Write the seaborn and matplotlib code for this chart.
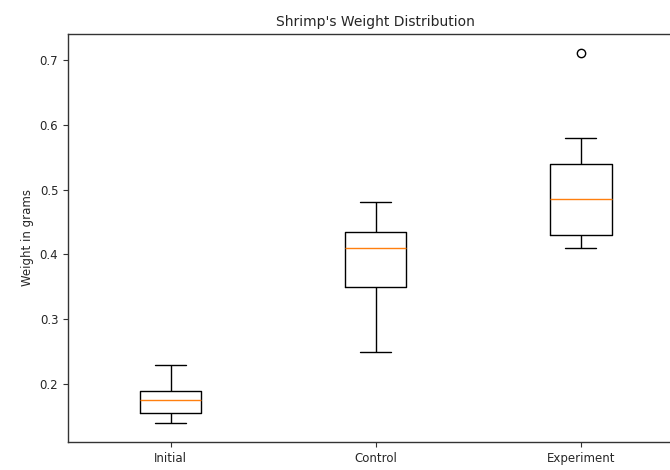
import numpy as np
import pandas as pd
import matplotlib
matplotlib.use("Agg")
import matplotlib.pyplot as plt
import seaborn as sns

# Shrimp weights (grams) per group
groups = ["Initial", "Control", "Experiment"]
initial = [0.14, 0.15, 0.155, 0.165, 0.175, 0.18, 0.19, 0.20, 0.23]
control = [0.25, 0.30, 0.35, 0.38, 0.41, 0.42, 0.435, 0.46, 0.48]
experiment = [0.41, 0.42, 0.43, 0.46, 0.485, 0.50, 0.54, 0.58, 0.71]

df = pd.DataFrame({
    "group": np.repeat(groups, [len(initial), len(control), len(experiment)]),
    "weight": initial + control + experiment,
})

sns.set_style("ticks")
plt.rcParams["font.family"] = ["DejaVu Sans"]

fig = plt.figure(figsize=(6.7, 4.7), dpi=100)
ax = fig.add_axes([0.1015, 0.06, 0.9185, 0.868])

sns.boxplot(
    data=df, x="group", y="weight", order=groups, ax=ax,
    width=0.3, fill=False, color="black", linewidth=1.0,
    whis=1.5, capwidths=0.15,
    medianprops=dict(color="#ff7f0e", linewidth=1.0),
    flierprops=dict(marker="o", markerfacecolor="white",
                    markeredgecolor="black", markersize=6, markeredgewidth=1.0),
)

ax.set_xlim(-0.5, 2.5)
ax.set_ylim(0.111, 0.74)
ax.set_yticks([0.2, 0.3, 0.4, 0.5, 0.6, 0.7])
ax.set_xlabel("")
ax.set_ylabel("Weight in grams", fontsize=8.5)
ax.set_title("Shrimp's Weight Distribution", fontsize=10)
ax.tick_params(labelsize=8.5, length=3.5, width=0.8, color="#333333")
for s in ax.spines.values():
    s.set_visible(True)
    s.set_linewidth(1.0)
    s.set_color("#333333")

fig.savefig("out.png", dpi=100)
